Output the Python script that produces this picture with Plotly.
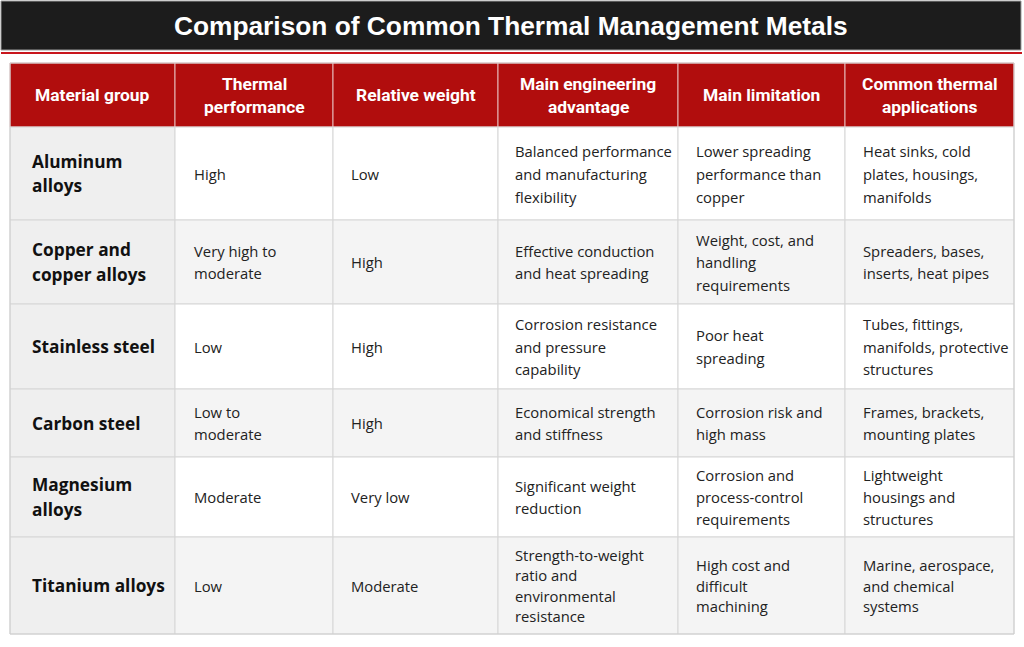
import plotly.graph_objects as go

# table content
title = "Comparison of Common Thermal Management Metals"
headers = ["Material group", "Thermal\nperformance", "Relative weight",
           "Main engineering\nadvantage", "Main limitation", "Common thermal\napplications"]
material = ["Aluminum\nalloys", "Copper and\ncopper alloys", "Stainless steel",
            "Carbon steel", "Magnesium\nalloys", "Titanium alloys"]
thermal = ["High", "Very high to\nmoderate", "Low", "Low to\nmoderate", "Moderate", "Low"]
weight = ["Low", "High", "High", "High", "Very low", "Moderate"]
advantage = ["Balanced performance\nand manufacturing\nflexibility",
             "Effective conduction\nand heat spreading",
             "Corrosion resistance\nand pressure\ncapability",
             "Economical strength\nand stiffness",
             "Significant weight\nreduction",
             "Strength-to-weight\nratio and\nenvironmental\nresistance"]
limitation = ["Lower spreading\nperformance than\ncopper",
              "Weight, cost, and\nhandling\nrequirements",
              "Poor heat\nspreading",
              "Corrosion risk and\nhigh mass",
              "Corrosion and\nprocess-control\nrequirements",
              "High cost and\ndifficult\nmachining"]
applications = ["Heat sinks, cold\nplates, housings,\nmanifolds",
                "Spreaders, bases,\ninserts, heat pipes",
                "Tubes, fittings,\nmanifolds, protective\nstructures",
                "Frames, brackets,\nmounting plates",
                "Lightweight\nhousings and\nstructures",
                "Marine, aerospace,\nand chemical\nsystems"]
columns = [material, thermal, weight, advantage, limitation, applications]

# geometry (pixel units on hidden axes)
W, H = 1024, 647
col_edges = [10, 175, 333, 498, 678, 845, 1014]
text_pad = [20, 17, 16, 15, 16, 16]
table_top, header_h = 63, 64
row_h = [93, 84, 85, 68, 80, 97]
row_gap = [23, 22.5, 22.5, 22.5, 22, 20.5]   # line spacing per body row

RED, GRID = "#b10d0d", "#d6d6d6"
BODY_FONT = "Open Sans"
HEAD_FONT = "Roboto"

shapes, annos = [], []


def rect(x0, y0, x1, y1, fill, line=GRID, lw=1):
    shapes.append(dict(type="rect", xref="x", yref="y", x0=x0, y0=y0, x1=x1, y1=y1,
                       fillcolor=fill, line=dict(color=line, width=lw), layer="below"))


def lines(text, x, yc, gap, font, xanchor="left"):
    parts = text.split("\n")
    n = len(parts)
    for i, p in enumerate(parts):
        annos.append(dict(x=x, y=yc + (i - (n - 1) / 2) * gap, xref="x", yref="y", text=p,
                          showarrow=False, xanchor=xanchor, yanchor="middle", font=font))


# title bar
rect(1, 1, 1021, 50, "#1c1c1c", line="#9a9a9a")
shapes.append(dict(type="line", xref="x", yref="y", x0=1, x1=1022, y0=53, y1=53,
                   line=dict(color="#c8161d", width=2)))
annos.append(dict(x=(1 + 1021) / 2, y=26, xref="x", yref="y", showarrow=False,
                  text=f"<b>{title}</b>",
                  font=dict(family="Liberation Sans, Arial", size=26.3, color="white")))

# header row
for j, h in enumerate(headers):
    x0, x1 = col_edges[j], col_edges[j + 1]
    rect(x0, table_top, x1, table_top + header_h, RED, line="#e6b9b9")
    lines("\n".join(f"<b>{s}</b>" for s in h.split("\n")), (x0 + x1) / 2,
          table_top + header_h / 2, 23,
          dict(family=HEAD_FONT, size=17.4, color="white"), xanchor="center")

# body rows
y = table_top + header_h
for i in range(len(material)):
    y0, y1 = y, y + row_h[i]
    yc = (y0 + y1) / 2
    for j, col in enumerate(columns):
        x0, x1 = col_edges[j], col_edges[j + 1]
        if j == 0:
            fill = "#efefef"
        else:
            fill = "#ffffff" if i % 2 == 0 else "#f4f4f4"
        rect(x0, y0, x1, y1, fill)
        if j == 0:
            txt = "\n".join(f"<b>{s}</b>" for s in col[i].split("\n"))
            lines(txt, x0 + text_pad[j], yc, 24.5,
                  dict(family=BODY_FONT, size=17.3, color="#111111"))
        else:
            lines(col[i], x0 + text_pad[j], yc, row_gap[i],
                  dict(family=BODY_FONT, size=14.8, color="#222222"))
    y = y1

# outer border
rect(col_edges[0], table_top, col_edges[-1], y, "rgba(0,0,0,0)", line="#cfcfcf")

fig = go.Figure()
fig.update_layout(
    width=W, height=H, margin=dict(l=0, r=0, t=0, b=0),
    paper_bgcolor="white", plot_bgcolor="white", showlegend=False,
    xaxis=dict(range=[0, W], visible=False, fixedrange=True),
    yaxis=dict(range=[H, 0], visible=False, fixedrange=True),
    shapes=shapes, annotations=annos,
)
# drop the browser's default 8px body margin so the figure sits at the page origin
fig.write_html("out.html", config={"displayModeBar": False},
               post_script="document.body.style.margin='0';")
